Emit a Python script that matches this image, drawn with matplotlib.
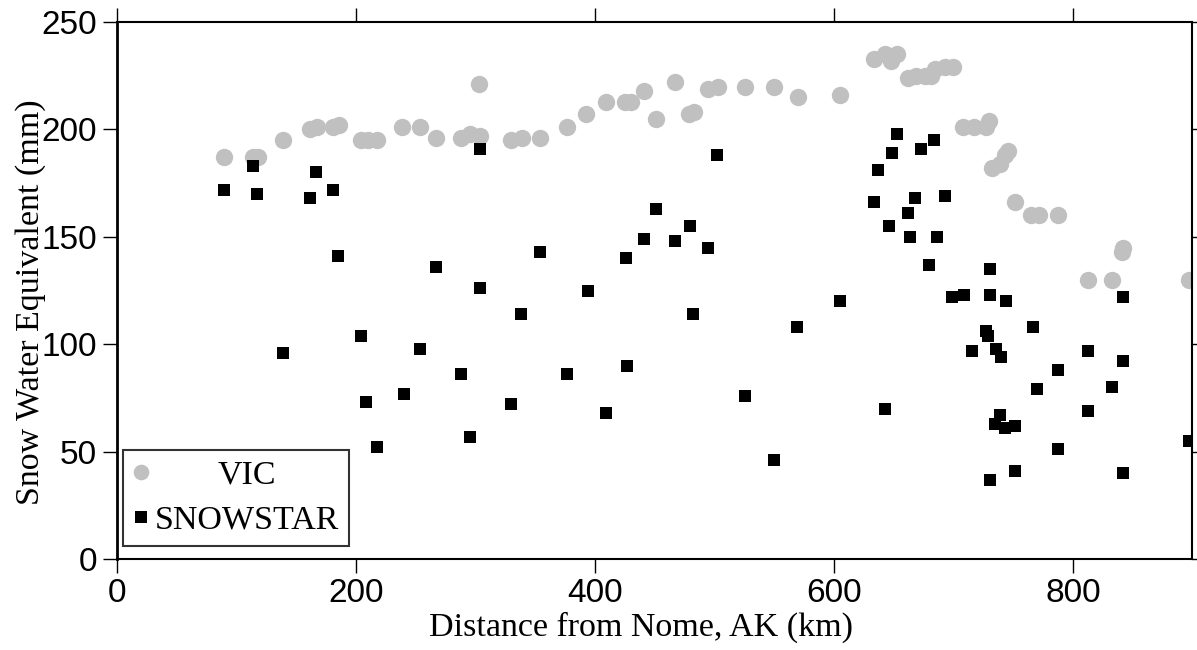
import matplotlib
matplotlib.use("Agg")
import matplotlib.pyplot as plt

# VIC model (grey circles)
vic_x = [90, 114, 118, 139, 162, 168, 181, 186, 204, 210, 218, 239, 254, 267,
         288, 296, 303, 304, 330, 339, 354, 377, 393, 409, 425, 430, 441, 451,
         467, 479, 483, 495, 503, 526, 550, 570, 605, 634, 643, 648, 653, 662,
         669, 676, 681, 685, 693, 700, 708, 717, 727, 730, 732, 739, 743, 746,
         752, 765, 772, 788, 813, 833, 841, 842, 897]
vic_y = [187, 187, 187, 195, 200, 201, 201, 202, 195, 195, 195, 201, 201, 196,
         196, 198, 221, 197, 195, 196, 196, 201, 207, 213, 213, 213, 218, 205,
         222, 207, 208, 219, 220, 220, 220, 215, 216, 233, 235, 232, 235, 224,
         225, 225, 225, 228, 229, 229, 201, 201, 201, 204, 182, 184, 188, 190,
         166, 160, 160, 160, 130, 130, 143, 145, 130]

# SNOWSTAR (black squares)
ss_x = [90, 114, 117, 139, 162, 167, 181, 185, 204, 209, 218, 240, 254, 267,
        288, 296, 304, 304, 330, 338, 354, 377, 394, 409, 426, 427, 441, 451,
        467, 480, 482, 495, 502, 526, 550, 569, 605, 634, 637, 643, 646, 649,
        653, 662, 664, 668, 673, 680, 684, 686, 693, 699, 709, 716, 727, 729,
        731, 731, 731, 735, 736, 739, 740, 743, 744, 752, 752, 767, 770, 788,
        788, 813, 813, 813, 833, 842, 842, 842, 897]
ss_y = [172, 183, 170, 96, 168, 180, 172, 141, 104, 73, 52, 77, 98, 136,
        86, 57, 191, 126, 72, 114, 143, 86, 125, 68, 140, 90, 149, 163,
        148, 155, 114, 145, 188, 76, 46, 108, 120, 166, 181, 70, 155, 189,
        198, 161, 150, 168, 191, 137, 195, 150, 169, 122, 123, 97, 106, 104,
        135, 123, 37, 63, 98, 67, 94, 61, 120, 62, 41, 108, 79, 88,
        51, 97, 69, 97, 80, 122, 92, 40, 55]

fig = plt.figure(figsize=(11.97, 6.5), dpi=100)
ax = fig.add_axes([0.0975, 0.14, 0.8986, 0.826])

ax.plot(vic_x, vic_y, 'o', color='#c0c0c0', markersize=12.5, label='VIC',
        markeredgewidth=0)
ax.plot(ss_x, ss_y, 's', color='black', markersize=9, label='SNOWSTAR',
        markeredgewidth=0)

ax.set_xlim(0, 900)
ax.set_ylim(0, 250)
ax.set_xticks([0, 200, 400, 600, 800])
ax.set_yticks([0, 50, 100, 150, 200, 250])

ax.tick_params(direction='out', length=10, width=1, top=True, right=True,
               labelsize=24)
ax.tick_params(axis='x', pad=4)
ax.tick_params(axis='y', pad=4)
for lab in ax.get_xticklabels() + ax.get_yticklabels():
    lab.set_family('Liberation Sans')
for s in ax.spines.values():
    s.set_linewidth(1.5)
ax.spines['left'].set_linewidth(2)

ax.set_xlabel('Distance from Nome, AK (km)', family='Liberation Serif',
              fontsize=24.5)
ax.set_ylabel('Snow Water Equivalent (mm)', family='Liberation Serif',
              fontsize=24.5)
ax.xaxis.set_label_coords(0.4874, -0.099)
ax.yaxis.set_label_coords(-0.066, 0.478)

leg = ax.legend(loc='lower left', bbox_to_anchor=(0.0055, 0.024),
                prop={'family': 'Liberation Serif', 'size': 24.5},
                frameon=True, fancybox=False, edgecolor='black',
                handlelength=0.5, handletextpad=0.15, borderpad=0.3,
                borderaxespad=0, labelspacing=0.42, markerscale=0.9)
leg.get_frame().set_linewidth(1.5)

# centre "VIC" over "SNOWSTAR" like the original legend
fig.canvas.draw()
r = fig.canvas.get_renderer()
w_vic = leg.texts[0].get_window_extent(r).width
w_ss = leg.texts[1].get_window_extent(r).width
row = leg._legend_handle_box.get_children()[0].get_children()[0]
row.sep = row.sep + (w_ss - w_vic) / 2 * 72 / fig.dpi

fig.savefig('out.png', dpi=100)
